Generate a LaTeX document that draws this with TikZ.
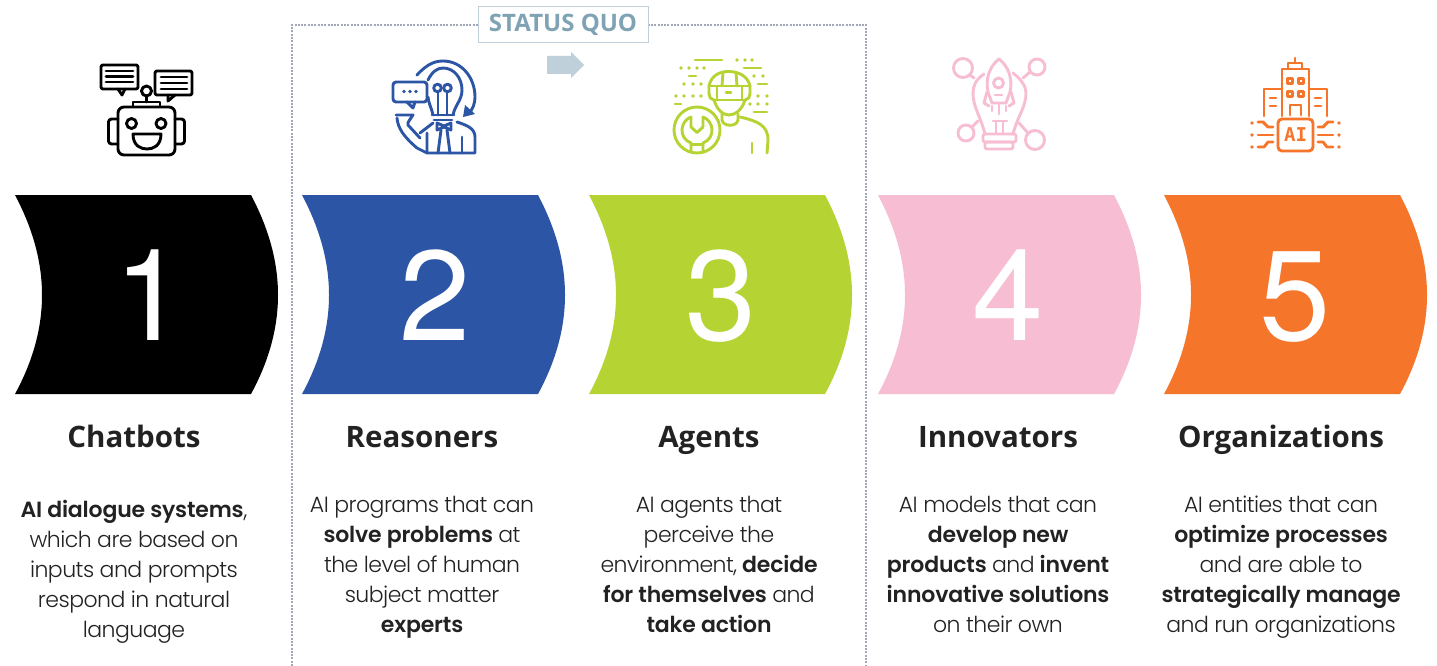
\documentclass[tikz,border=0pt]{standalone}
\usepackage{fontspec}
\setmainfont{Poppins Light}[BoldFont={Poppins SemiBold},LetterSpace=-2.4,BoldFeatures={LetterSpace=-0.8}]
\newfontfamily\headfont{Open Sans}
\newfontfamily\numfont{TeX Gyre Heros}
\newfontfamily\aifont{DejaVu Sans Mono}
\definecolor{cblue}{HTML}{2C55A5}
\definecolor{cgreen}{HTML}{B5D433}
\definecolor{cpink}{HTML}{F6BDD3}
\definecolor{corange}{HTML}{F5752B}
\definecolor{cquo}{HTML}{7FA3B5}
\definecolor{carrow}{HTML}{BFD0DA}
\definecolor{cdot}{HTML}{A3A8B8}
\definecolor{ctxt}{HTML}{222222}
\tikzset{x=1pt,y=-1pt,
 numlabel/.style={text=white,font=\numfont\fontsize{128}{128}\selectfont,inner sep=0pt,anchor=base},
 headlabel/.style={text=ctxt,font=\headfont\bfseries\fontsize{29.5}{34}\selectfont,inner sep=0pt,anchor=base},
 bodylabel/.style={text=ctxt,font=\fontsize{22}{30}\selectfont,inner sep=0pt,align=center,anchor=north},
 ic/.style={color=#1,line width=2.9pt,line cap=round,line join=round},
}
\newcommand{\bannershape}[2]{%
 \fill[#2] (#1,195) -- (#1+236,195) .. controls (#1+254,229) and (#1+263,262) .. (#1+263,295) .. controls (#1+263,328) and (#1+254,361) .. (#1+236,394) -- (#1,394) .. controls (#1+18,361) and (#1+27,328) .. (#1+27,295) .. controls (#1+27,262) and (#1+18,229) .. (#1,195) -- cycle;}
\newcommand{\dotsat}[1]{\foreach \p in {#1}{\fill \p circle (1.9pt);}}
\begin{document}
\begin{tikzpicture}
\useasboundingbox (0,0) rectangle (1437,666);
\fill[white] (0,0) rectangle (1437,666);
% status quo frame
\coordinate (fa) at (292,666);
\coordinate (fb) at (292,25);
\coordinate (fc) at (866,25);
\coordinate (fd) at (866,666);
\draw[cdot,line width=2pt,dash pattern=on 2pt off 1.3pt] (fa) -- (fb) -- (fc) -- (fd);
\node[draw=carrow,line width=1pt,fill=white,minimum width=170pt,minimum height=36pt,inner sep=0pt,text=cquo,font=\headfont\bfseries\fontsize{24}{28}\selectfont] (quo) at (563,25) {STATUS QUO};
\fill[carrow] (547,56) -- (571,56) -- (571,52) -- (584,65) -- (571,78) -- (571,74) -- (547,74) -- cycle;
% banners
\bannershape{15}{black}
\bannershape{302}{cblue}
\bannershape{589}{cgreen}
\bannershape{878}{cpink}
\bannershape{1164}{corange}
\node[numlabel] (n1) at (150,340) {1};
\node[numlabel] (n2) at (435,340) {2};
\node[numlabel] (n3) at (721,340) {3};
\node[numlabel] (n4) at (1008,340) {4};
\node[numlabel] (n5) at (1295,340) {5};
% headings
\node[headlabel] (h1) at (134,447) {Chatbots};
\node[headlabel] (h2) at (422,447) {Reasoners};
\node[headlabel] (h3) at (709,447) {Agents};
\node[headlabel] (h4) at (998,447) {Innovators};
\node[headlabel] (h5) at (1281,447) {Organizations};
% bodies
\node[bodylabel] (b1) at (134,500) {\textbf{AI dialogue systems},\\which are based on\\inputs and prompts\\respond in natural\\language};
\node[bodylabel] (b2) at (422,496) {AI programs that can\\\textbf{solve problems} at\\the level of human\\subject matter\\\textbf{experts}};
\node[bodylabel] (b3) at (709,496) {AI agents that\\perceive the\\environment, \textbf{decide}\\\textbf{for themselves} and\\\textbf{take action}};
\node[bodylabel] (b4) at (998,496) {AI models that can\\\textbf{develop new}\\\textbf{products} and \textbf{invent}\\\textbf{innovative solutions}\\on their own};
\node[bodylabel] (b5) at (1281,496) {AI entities that can\\\textbf{optimize processes}\\and are able to\\\textbf{strategically manage}\\and run organizations};
% icon 1: robot
\begin{scope}[ic=black]
\draw[rounded corners=2pt] (101,65) rectangle (138,89);
\draw (118,89) -- (122,95) -- (125,89);
\draw (106,71) -- (133,71) (106,76.5) -- (133,76.5) (106,82) -- (133,82);
\draw[rounded corners=2pt] (155,71) rectangle (192,95);
\draw (168,95) -- (168,101) -- (175,95);
\draw (161,77) -- (187,77) (161,83) -- (187,83) (161,89) -- (187,89);
\draw (146.5,91) circle (5pt);
\draw (146.5,96) -- (146.5,102);
\draw (133,106) -- (133,102) -- (160,102) -- (160,106);
\draw[rounded corners=6pt] (118,107) rectangle (175,155);
\draw[rounded corners=3pt] (118,119) -- (108.5,119) -- (108.5,144) -- (118,144);
\draw[rounded corners=3pt] (175,119) -- (184.5,119) -- (184.5,144) -- (175,144);
\draw (131.5,123.5) circle (5pt);
\draw (161,123.5) circle (5pt);
\draw (133,134) -- (161,134) .. controls (161,146) and (153,149) .. (147,149) .. controls (141,149) and (133,146) .. (133,134) -- cycle;
\end{scope}
% icon 2: reasoner
\begin{scope}[ic=cblue]
\draw (417,75) .. controls (428,63) and (436,61) .. (443,61) .. controls (462,61) and (475,78) .. (475,97) .. controls (475,103) and (473,110) .. (468,114);
\fill (463,117) -- (465,105) -- (475,114) -- cycle;
\draw[rounded corners=3pt] (393,82) rectangle (427,102);
\draw (407,102) -- (413,108) -- (415,102);
\dotsat{(404,91.5),(410,91.5),(416,91.5)}
\draw (428,80) .. controls (432,72) and (437,68) .. (443,68) .. controls (454,68) and (462,78) .. (462,90) .. controls (462,100) and (455,105) .. (453,115);
\draw (428,97) .. controls (429,105) and (432,109) .. (433,115);
\draw (432,115) -- (454,115);
\draw (434,120) -- (452,120);
\draw (438,115) -- (438,92) (447,115) -- (447,92);
\draw (437.5,88) circle (3.8pt);
\draw (447.5,88) circle (3.8pt);
\draw (396,115) -- (413,115) .. controls (410,120) and (407,122) .. (408,125) -- (420,138);
\draw (397,118) .. controls (398,128) and (403,136) .. (417,148) -- (427,153);
\draw (420,133) -- (433,123);
\draw (427,133) -- (427,153) -- (475,153) -- (475,137) .. controls (475,128) and (466,125) .. (457,122);
\draw (437,123) -- (444,126) -- (451,123) -- (451,130) -- (444,127) -- (437,130) -- cycle;
\draw (441,130) -- (438,153) (447,130) -- (450,153);
\draw (462,137) -- (462,153);
\end{scope}
% icon 3: agent
\begin{scope}[ic=cgreen]
\draw (695,60) -- (722,60);
\dotsat{(737,60),(745,60),(752,60)}
\dotsat{(681,68),(689,68),(697,68),(704,68)}
\draw (744,68) -- (761,68);
\draw (689,76) -- (696,76);
\dotsat{(754,76),(763,76)}
\dotsat{(684,84),(693,84),(701,84)}
\draw (758,84) -- (767,84);
\dotsat{(676,96),(684,96),(693,96),(701,96)}
\dotsat{(758,96),(767,96)}
\draw (675,104) -- (681,104);
\dotsat{(750,104),(758,104),(767,104)}
\draw (754,112) -- (767,112);
\draw (709,86) .. controls (711,76) and (719,71.5) .. (728.5,71.5) .. controls (738,71.5) and (748,76) .. (750,86) -- (750,94) .. controls (750,97) and (748,100) .. (745,100);
\draw (709,86) -- (709,94) .. controls (709,97) and (711,100) .. (714,100);
\draw (709,86) -- (750,86) (714,100) -- (745,100);
\draw (717,86) -- (717,100) (742,86) -- (742,100);
\draw (723,72) -- (722,86) (736,72) -- (737,86);
\draw (726,92.5) -- (731,92.5);
\draw (714,100) .. controls (717,110) and (723,115) .. (729,115) .. controls (735,115) and (742,110) .. (745,100);
\draw (722,114) -- (722,120) .. controls (723,127) and (737,127) .. (738,120) -- (738,114);
\draw (740,117) .. controls (757,121) and (768,125) .. (768,140) -- (767,153);
\draw (752,143) -- (752,153);
\draw (697,130) circle (23pt);
\draw (691,117) -- (691,127) -- (697,132.5) -- (703,127) -- (703,117);
\draw (691,117) .. controls (680,121) and (678,138) .. (691,143) -- (691,152);
\draw (703,117) .. controls (714,121) and (716,138) .. (703,143) -- (703,152);
\draw (691,144.5) -- (703,144.5);
\end{scope}
% icon 4: innovator
\begin{scope}[ic=cpink]
\draw (963,68) circle (9.5pt);
\draw (970,75) -- (974,78);
\draw (1037,67) circle (8pt);
\draw (1030,72) -- (1023,78);
\draw (966,133) circle (8pt);
\draw (972,127) -- (978,121);
\draw (1035,140) circle (9.5pt);
\draw (1028,133) -- (1019,123);
\draw (999,59) .. controls (990,66) and (985,78) .. (988,92) -- (992,103) -- (1006,103) -- (1010,92) .. controls (1013,78) and (1008,66) .. (999,59);
\draw (998.5,83) circle (5pt);
\draw (995,95) -- (1002,95);
\draw (987,92) -- (984,103) -- (989,106);
\draw (1011,92) -- (1014,103) -- (1009,106);
\draw (999,105) -- (999,114) (992,106) -- (992,111) (1006,106) -- (1006,111);
\draw (984,74) .. controls (975,80) and (973,87) .. (973,93) .. controls (973,107) and (980,115) .. (985,134);
\draw (1013,73) .. controls (1022,80) and (1026,87) .. (1026,93) .. controls (1026,107) and (1018,115) .. (1013,134);
\draw (993,121) -- (1007,121) (996,121) -- (996,133) (1003,121) -- (1003,133);
\draw[rounded corners=2pt] (983,134) rectangle (1016,142);
\draw[rounded corners=2pt] (985,142) rectangle (1013,149);
\end{scope}
% icon 5: organization
\begin{scope}[ic=corange]
\draw (1295,58) -- (1295,63);
\draw (1288,69) -- (1288,63) -- (1302,63) -- (1302,69);
\draw (1282,116) -- (1282,69) -- (1309,69) -- (1309,116);
\draw (1282,89) -- (1264,89) -- (1264,116) (1309,89) -- (1327,89) -- (1327,116);
\draw[line width=2.2pt] (1287.5,78.5) rectangle (1292.5,83.5) (1298.5,78.5) rectangle (1303.5,83.5) (1287.5,91.5) rectangle (1292.5,96.5) (1298.5,91.5) rectangle (1303.5,96.5);
\draw (1270,98) -- (1276,98) (1270,106) -- (1276,106) (1315,98) -- (1321,98) (1315,106) -- (1321,106);
\draw (1290,115) -- (1290,105) -- (1301,105) -- (1301,115);
\draw[rounded corners=4pt] (1278,119) rectangle (1313,151);
\dotsat{(1252,123),(1252,135),(1252,147),(1339,123),(1339,135),(1339,147)}
\draw (1258,122) -- (1263,122) -- (1268,127) -- (1273,127);
\draw (1258,135) -- (1273,135);
\draw (1258,147) -- (1264,147) -- (1268,142) -- (1273,142);
\draw (1333,122) -- (1328,122) -- (1323,127) -- (1318,127);
\draw (1333,135) -- (1318,135);
\draw (1333,147) -- (1327,147) -- (1323,142) -- (1318,142);
\end{scope}
\node[inner sep=0pt,text=corange,font=\aifont\bfseries\fontsize{19}{19}\selectfont] (ai) at (1295.5,135) {AI};
\end{tikzpicture}
\end{document}
